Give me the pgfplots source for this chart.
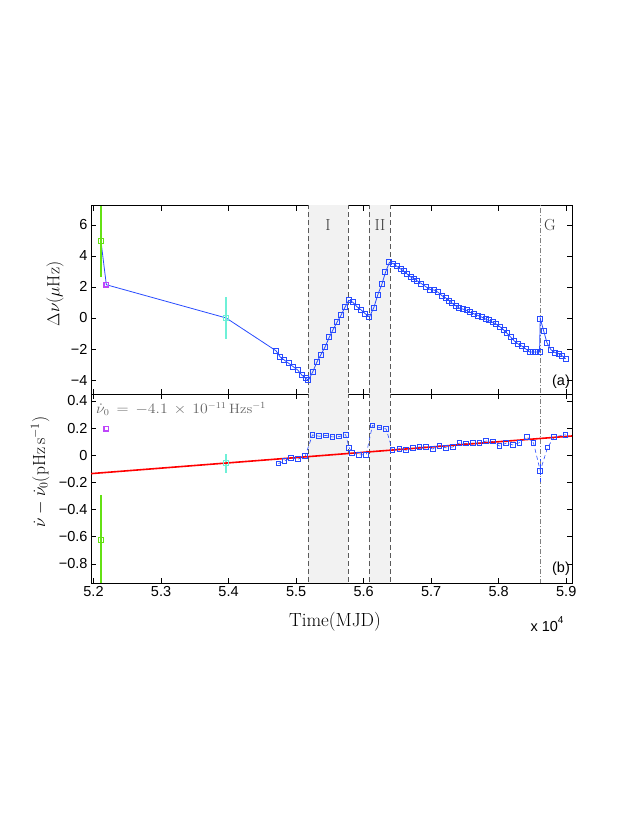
\documentclass[border=0pt]{standalone}
\usepackage{fontspec}
\setsansfont{Liberation Sans}
\usepackage{pgfplots}
\usepackage{pgfplotstable}
\pgfplotsset{compat=1.18}
\definecolor{mblue}{RGB}{40,75,255}
\definecolor{mgreen}{RGB}{100,225,20}
\definecolor{mmag}{RGB}{190,70,250}
\definecolor{mcyan}{RGB}{110,240,215}
\definecolor{shade}{RGB}{242,242,242}
\definecolor{vline}{RGB}{90,90,90}

\pgfplotstableread{
mjd val
52111 4.93
52190 2.14
53963 0.00
54704 -2.12
54763 -2.51
54827 -2.72
54892 -2.93
54960 -3.15
55025 -3.36
55084 -3.68
55144 -3.90
55183 -4.00
55247 -3.47
55307 -2.85
55366 -2.38
55430 -1.86
55489 -1.26
55548 -0.75
55607 -0.26
55667 0.19
55726 0.71
55780 1.14
55840 1.01
55904 0.71
55967 0.50
56022 0.28
56086 0.06
56151 0.67
56210 1.50
56270 2.17
56323 2.94
56382 3.58
56441 3.50
56492 3.32
56551 3.15
56600 3.00
56649 2.81
56699 2.64
56748 2.53
56797 2.38
56856 2.21
56926 2.00
56985 1.83
57044 1.80
57104 1.65
57163 1.42
57212 1.30
57262 1.12
57311 0.95
57360 0.80
57419 0.62
57470 0.57
57529 0.48
57578 0.36
57637 0.26
57697 0.15
57756 0.04
57805 -0.07
57855 -0.16
57914 -0.29
57963 -0.40
58022 -0.58
58071 -0.76
58122 -0.98
58181 -1.25
58230 -1.48
58289 -1.68
58348 -1.83
58407 -2.02
58457 -2.19
58507 -2.20
58556 -2.20
58604 -2.20
58615 -0.04
58664 -0.81
58714 -1.60
58773 -2.05
58833 -2.23
58892 -2.31
58941 -2.45
58990 -2.63
}\toptable

\pgfplotstableread{
mjd val
54704 -2.12
54763 -2.51
54827 -2.72
54892 -2.93
54960 -3.15
55025 -3.36
55084 -3.68
55144 -3.90
55183 -4.00
55247 -3.47
55307 -2.85
55366 -2.38
55430 -1.86
55489 -1.26
55548 -0.75
55607 -0.26
55667 0.19
55726 0.71
55780 1.14
55840 1.01
55904 0.71
55967 0.50
56022 0.28
56086 0.06
56151 0.67
56210 1.50
56270 2.17
56323 2.94
56382 3.58
56441 3.50
56492 3.32
56551 3.15
56600 3.00
56649 2.81
56699 2.64
56748 2.53
56797 2.38
56856 2.21
56926 2.00
56985 1.83
57044 1.80
57104 1.65
57163 1.42
57212 1.30
57262 1.12
57311 0.95
57360 0.80
57419 0.62
57470 0.57
57529 0.48
57578 0.36
57637 0.26
57697 0.15
57756 0.04
57805 -0.07
57855 -0.16
57914 -0.29
57963 -0.40
58022 -0.58
58071 -0.76
58122 -0.98
58181 -1.25
58230 -1.48
58289 -1.68
58348 -1.83
58407 -2.02
58457 -2.19
58507 -2.20
58556 -2.20
58604 -2.20
58615 -0.04
58664 -0.81
58714 -1.60
58773 -2.05
58833 -2.23
58892 -2.31
58941 -2.45
58990 -2.63
}\bluetop

\pgfplotstableread{
mjd val
54738 -0.061
54827 -0.042
54926 -0.020
55025 -0.029
55133 -0.008
55242 0.150
55341 0.140
55440 0.146
55538 0.135
55637 0.138
55733 0.152
55788 0.052
55833 0.019
55926 0.003
56037 0.004
56130 0.219
56234 0.204
56333 0.194
56427 0.036
56530 0.049
56630 0.037
56729 0.051
56827 0.061
56926 0.061
57025 0.046
57123 0.071
57222 0.054
57321 0.061
57419 0.090
57519 0.086
57618 0.090
57716 0.090
57815 0.105
57914 0.101
58012 0.068
58111 0.090
58210 0.076
58308 0.093
58418 0.135
58516 0.090
58615 -0.115
58723 0.057
58822 0.135
58990 0.152
}\bluebot

\begin{document}
\begin{tikzpicture}[x=1pt,y=1pt]
\path[use as bounding box] (0pt,0pt) rectangle (638pt,825pt);
\pgfplotsset{mystyle/.style={scale only axis, width=481pt, height=188.7pt,
  xmin=51963, xmax=59085, axis line style={line width=0.9pt},
  major tick length=5pt, tick style={line width=0.6pt, black},
  xtick={52000,53000,...,59000}, scaled x ticks=false, scaled y ticks=false,
  tick label style={font=\fontsize{14.5}{16}\selectfont\sffamily},
  clip=true}}

% ---------------- top panel ----------------
\begin{axis}[mystyle, at={(91pt,430.7pt)}, anchor=south west,
  ymin=-4.92, ymax=7.24, ytick={-4,-2,...,6},
  yticklabels={−4,−2,0,2,4,6}, xticklabels={}]
\addplot[fill=shade, draw=none] coordinates {(55182,-10) (55775,-10) (55775,10) (55182,10)} -- cycle;
\addplot[fill=shade, draw=none] coordinates {(56086,-10) (56388,-10) (56388,10) (56086,10)} -- cycle;
\addplot[vline, dash pattern=on 5pt off 3pt, line width=0.6pt] coordinates {(55182,-10) (55182,10)};
\addplot[vline, dash pattern=on 5pt off 3pt, line width=0.6pt] coordinates {(55775,-10) (55775,10)};
\addplot[vline, dash pattern=on 5pt off 3pt, line width=0.6pt] coordinates {(56086,-10) (56086,10)};
\addplot[vline, dash pattern=on 5pt off 3pt, line width=0.6pt] coordinates {(56388,-10) (56388,10)};
\addplot[gray, dash pattern=on 5pt off 2pt on 1pt off 2pt, line width=0.6pt] coordinates {(58615,-10) (58615,10)};
\addplot[mblue, line width=0.8pt, mark=none] table[x=mjd, y=val] {\toptable};
\addplot[only marks, mark=square, mark size=2.5pt, mark options={mblue, line width=1pt}] table[x=mjd, y=val] {\bluetop};
\addplot[only marks, mgreen, mark=square, mark size=2.5pt, mark options={line width=1pt},
  error bars/.cd, y dir=both, y explicit, error mark=none,
  error bar style={line width=1.3pt, mgreen}] coordinates {(52111,4.93) +- (0,2.3)};
\addplot[only marks, mmag, mark=square, mark size=2.3pt, mark options={line width=1.2pt}] coordinates {(52190,2.14)};
\addplot[only marks, mcyan, mark=square, mark size=2.5pt, mark options={line width=1pt},
  error bars/.cd, y dir=both, y explicit, error mark=none,
  error bar style={line width=1.2pt, mcyan}] coordinates {(53963,0.0) +- (0,1.37)};
\end{axis}

% ---------------- bottom panel ----------------
\begin{axis}[mystyle, at={(91pt,242pt)}, anchor=south west,
  ymin=-0.94, ymax=0.449, ytick={-0.8,-0.6,...,0.41},
  yticklabels={−0.8,−0.6,−0.4,−0.2,0,0.2,0.4},
  xticklabels={5.2,5.3,5.4,5.5,5.6,5.7,5.8,5.9}]
\addplot[fill=shade, draw=none] coordinates {(55182,-10) (55775,-10) (55775,10) (55182,10)} -- cycle;
\addplot[fill=shade, draw=none] coordinates {(56086,-10) (56388,-10) (56388,10) (56086,10)} -- cycle;
\addplot[vline, dash pattern=on 5pt off 3pt, line width=0.6pt] coordinates {(55182,-10) (55182,10)};
\addplot[vline, dash pattern=on 5pt off 3pt, line width=0.6pt] coordinates {(55775,-10) (55775,10)};
\addplot[vline, dash pattern=on 5pt off 3pt, line width=0.6pt] coordinates {(56086,-10) (56086,10)};
\addplot[vline, dash pattern=on 5pt off 3pt, line width=0.6pt] coordinates {(56388,-10) (56388,10)};
\addplot[gray, dash pattern=on 5pt off 2pt on 1pt off 2pt, line width=0.6pt] coordinates {(58615,-10) (58615,10)};
\addplot[mblue, line width=0.6pt, dash pattern=on 4pt off 3pt, mark=none] table[x=mjd, y=val] {\bluebot};
\addplot[mblue, line width=0.6pt, dash pattern=on 4pt off 3pt, mark=none] coordinates {(58615,-0.20) (58615,-0.03)};
\addplot[only marks, mark=square, mark size=2.4pt, mark options={mblue, line width=1pt}] table[x=mjd, y=val] {\bluebot};
\addplot[only marks, mgreen, mark=square, mark size=2.5pt, mark options={line width=1pt},
  error bars/.cd, y dir=both, y explicit, error mark=none,
  error bar style={line width=1.3pt, mgreen}] coordinates {(52111,-0.62) +- (0,0.33)};
\addplot[only marks, mmag, mark=square, mark size=2.3pt, mark options={line width=1.2pt}] coordinates {(52190,0.196)};
\addplot[only marks, mcyan, mark=square, mark size=2.5pt, mark options={line width=1pt},
  error bars/.cd, y dir=both, y explicit, error mark=none,
  error bar style={line width=1.2pt, mcyan}] coordinates {(53963,-0.057) +- (0,0.07)};
\addplot[red, line width=1.6pt, mark=none] coordinates {(51963,-0.135) (59085,0.142)};
\end{axis}

% ---------------- texts ----------------
\node[rotate=90, font=\fontsize{17.5}{20}\selectfont] at (55pt,531pt) {$\Delta\nu(\mu\mathrm{Hz})$};
\node[rotate=90, font=\fontsize{17.5}{20}\selectfont] at (40pt,353pt) {$\dot{\nu}-\dot{\nu}_0(\mathrm{pHz\,s^{-1}})$};
\node[font=\fontsize{19}{22}\selectfont] at (335pt,203pt) {Time(MJD)};
\node[font=\fontsize{14.5}{16}\selectfont\sffamily, anchor=west] at (527pt,201pt) {x 10\raisebox{1.0ex}{\fontsize{10}{12}\selectfont 4}};
\node[font=\fontsize{14.5}{16}\selectfont\sffamily] at (561pt,443.5pt) {(a)};
\node[font=\fontsize{14.5}{16}\selectfont\sffamily] at (561pt,256.5pt) {(b)};
\node[font=\fontsize{16}{18}\selectfont, text=black!75] at (328pt,600pt) {I};
\node[font=\fontsize{16}{18}\selectfont, text=black!75] at (380pt,600pt) {II};
\node[font=\fontsize{16}{18}\selectfont, text=black!75] at (550pt,600pt) {G};
\node[font=\fontsize{13.5}{15}\selectfont, text=black!60, anchor=west, inner sep=0pt, xscale=1.1] at (96pt,416pt) {$\dot{\nu}_0\,=\,-4.1\,\times\,10^{-11}\,\mathrm{Hz s^{-1}}$};
\end{tikzpicture}
\end{document}
